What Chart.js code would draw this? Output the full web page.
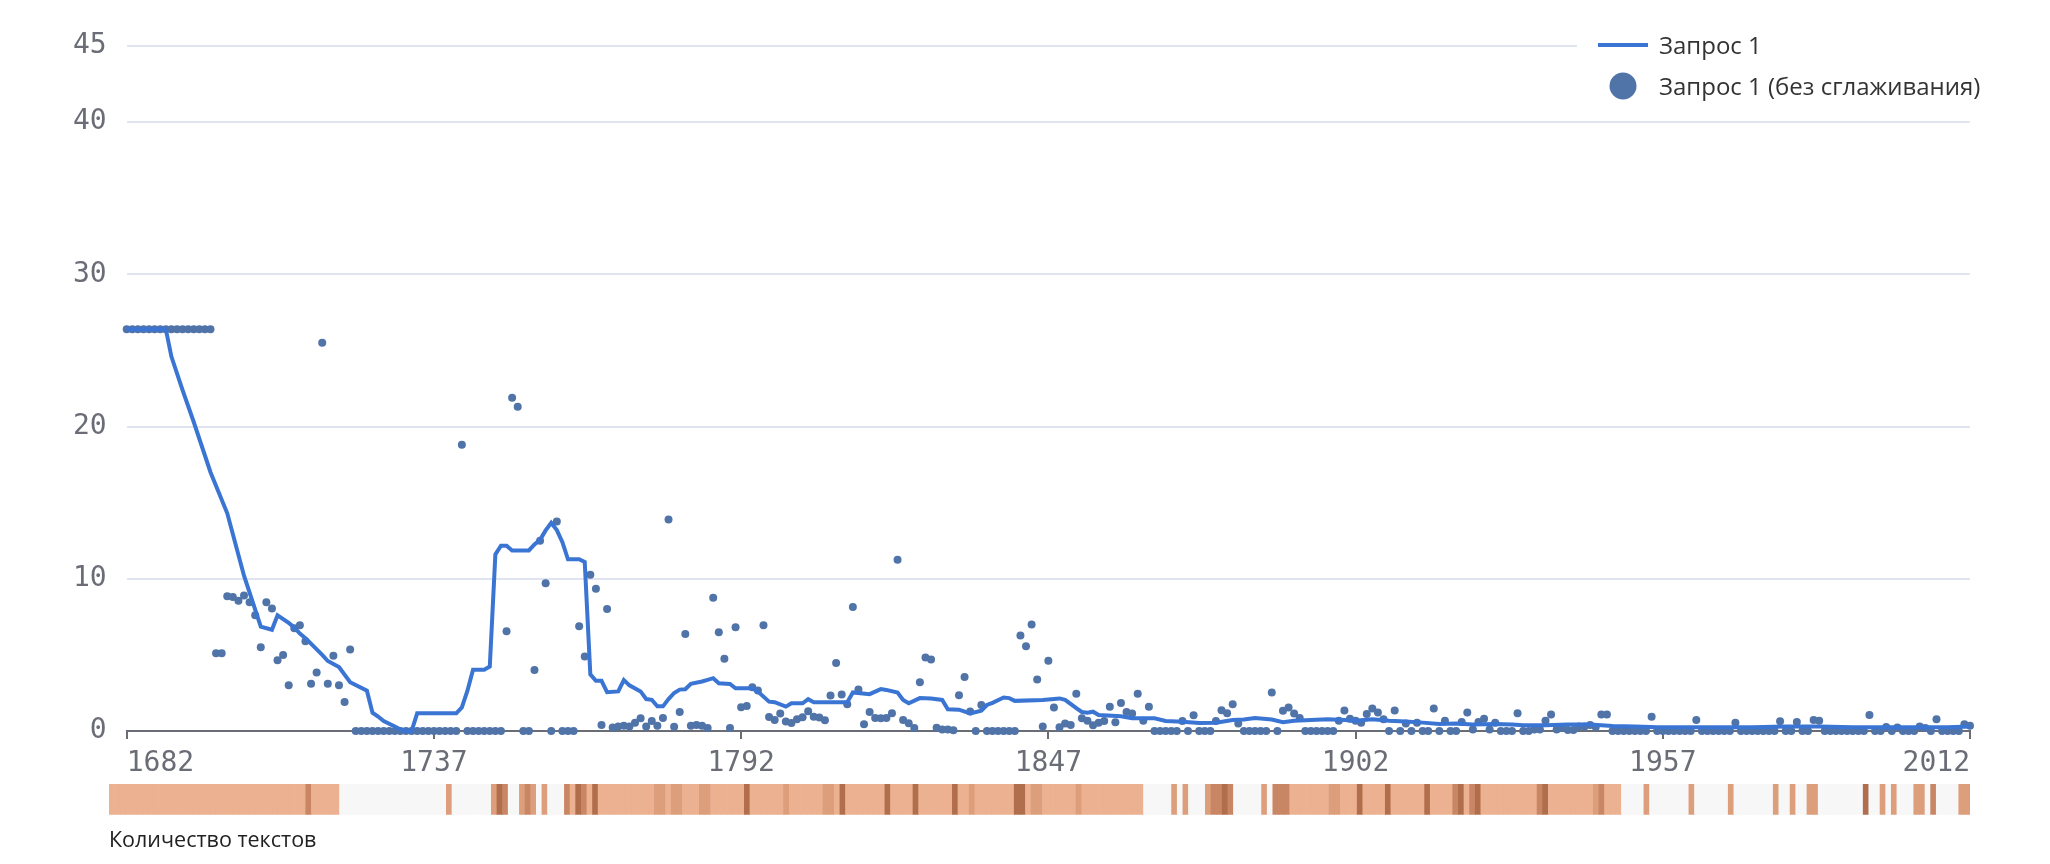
<!DOCTYPE html>
<html>
<head>
<meta charset="utf-8">
<script src="https://cdn.jsdelivr.net/npm/chart.js@4/dist/chart.umd.min.js"></script>
<style>
  html, body { margin: 0; padding: 0; background: #fff; }
  #wrap { position: relative; width: 2050px; height: 864px; }
  #main { position: absolute; left: 0; top: 0; }
  #strip { position: absolute; left: 0; top: 780px; }
</style>
</head>
<body>
<div id="wrap">
  <canvas id="main" width="2050" height="790"></canvas>
  <canvas id="strip" width="2050" height="84"></canvas>
</div>
<script>
// годы и подписи осей
const firstYear = 1682;
const xTickYears = [1682, 1737, 1792, 1847, 1902, 1957, 2012];
const yTickValues = [0, 10, 20, 30, 40, 45];

// точки без сглаживания, по одному значению на год (1682..2012)
const dotValues = [
  26.4, 26.4, 26.4, 26.4, 26.4, 26.4, 26.4, 26.4, 26.4, 26.4,
  26.4, 26.4, 26.4, 26.4, 26.4, 26.4, 5.1, 5.1, 8.85, 8.8,
  8.55, 8.9, 8.45, 7.6, 5.5, 8.45, 8.05, 4.65, 5.0, 3.0,
  6.75, 6.95, 5.9, 3.1, 3.85, 25.5, 3.1, 4.95, 3.0, 1.9,
  5.35, 0, 0, 0, 0, 0, 0, 0, 0, 0,
  0, 0, 0, 0, 0, 0, 0, 0, 0, 0,
  18.8, 0, 0, 0, 0, 0, 0, 0, 6.55, 21.9,
  21.3, 0, 0, 4.0, 12.5, 9.7, 0, 13.76, 0, 0,
  0, 6.88, 4.9, 10.26, 9.34, 0.4, 8.02, 0.23, 0.3, 0.35,
  0.3, 0.54, 0.83, 0.3, 0.65, 0.35, 0.85, 13.9, 0.28, 1.25,
  6.37, 0.35, 0.4, 0.35, 0.2, 8.75, 6.48, 4.75, 0.2, 6.81,
  1.56, 1.65, 2.88, 2.66, 6.94, 0.92, 0.73, 1.15, 0.62, 0.53,
  0.77, 0.9, 1.29, 0.94, 0.88, 0.7, 2.33, 4.46, 2.4, 1.76,
  8.15, 2.72, 0.45, 1.25, 0.85, 0.83, 0.85, 1.16, 11.25, 0.73,
  0.51, 0.19, 3.2, 4.83, 4.7, 0.22, 0.1, 0.1, 0.05, 2.35,
  3.54, 1.28, 0, 1.7, 0, 0, 0, 0, 0, 0,
  6.28, 5.56, 6.99, 3.38, 0.3, 4.61, 1.55, 0.24, 0.5, 0.4,
  2.44, 0.83, 0.68, 0.38, 0.55, 0.65, 1.6, 0.57, 1.84, 1.25,
  1.15, 2.44, 0.68, 1.6, 0, 0, 0, 0, 0, 0.65,
  0, 1.03, 0, 0, 0, 0.65, 1.37, 1.17, 1.75, 0.5,
  0, 0, 0, 0, 0, 2.53, 0, 1.33, 1.55, 1.15,
  0.85, 0, 0, 0, 0, 0, 0, 0.68, 1.34, 0.81,
  0.68, 0.55, 1.12, 1.47, 1.21, 0.77, 0, 1.34, 0, 0.5,
  0, 0.55, 0, 0, 1.47, 0, 0.68, 0, 0, 0.59,
  1.21, 0.1, 0.59, 0.81, 0.1, 0.55, 0, 0, 0, 1.16,
  0, 0, 0.1, 0.1, 0.68, 1.08, 0.1, 0.2, 0.07, 0.07,
  0.3, 0.3, 0.4, 0.27, 1.08, 1.08, 0, 0, 0, 0,
  0, 0, 0, 0.94, 0, 0, 0, 0, 0, 0,
  0, 0.73, 0, 0, 0, 0, 0, 0, 0.55, 0,
  0, 0, 0, 0, 0, 0, 0.64, 0, 0, 0.59,
  0, 0, 0.73, 0.68, 0, 0, 0, 0, 0, 0,
  0, 0, 1.05, 0, 0, 0.27, 0, 0.23, 0, 0,
  0, 0.3, 0.2, 0, 0.77, 0, 0, 0, 0, 0.45,
  0.35
];

// сглаженная линия
const lineYears = [
  1682, 1689, 1690, 1692, 1694, 1697, 1700, 1703, 1706, 1708,
  1709, 1711, 1712, 1713, 1714, 1717, 1718, 1720, 1722, 1725,
  1726, 1727, 1728, 1730, 1731, 1732, 1733, 1734, 1741, 1742,
  1743, 1744, 1746, 1747, 1748, 1749, 1750, 1751, 1754, 1755,
  1756, 1757, 1758, 1759, 1760, 1761, 1763, 1764, 1765, 1766,
  1767, 1768, 1770, 1771, 1772, 1774, 1775, 1776, 1777, 1778,
  1779, 1780, 1781, 1782, 1783, 1785, 1786, 1787, 1788, 1790,
  1791, 1794, 1795, 1797, 1798, 1800, 1801, 1803, 1804, 1805,
  1811, 1812, 1815, 1817, 1818, 1820, 1821, 1822, 1824, 1826,
  1828, 1829, 1831, 1833, 1835, 1836, 1837, 1839, 1840, 1841,
  1846, 1849, 1850, 1852, 1853, 1854, 1855, 1856, 1860, 1862,
  1866, 1868, 1871, 1874, 1877, 1880, 1882, 1884, 1887, 1889,
  1891, 1894, 1897, 1900, 1902, 1905, 1908, 1911, 1914, 1917,
  1920, 1923, 1927, 1930, 1932, 1936, 1940, 1944, 1948, 1952,
  1956, 1962, 1967, 1973, 1979, 1985, 1991, 1997, 2002, 2008,
  2012
];
const lineValues = [
  26.4, 26.4, 24.6, 22.4, 20.3, 17.0, 14.3, 10.2, 6.85, 6.65,
  7.6, 7.1, 6.8, 6.4, 6.1, 5.0, 4.6, 4.2, 3.2, 2.65,
  1.2, 0.95, 0.65, 0.3, 0.1, 0, 0, 1.16, 1.16, 1.55,
  2.65, 4.03, 4.03, 4.23, 11.6, 12.17, 12.17, 11.86, 11.86, 12.26,
  12.56, 13.18, 13.68, 13.2, 12.4, 11.28, 11.28, 11.1, 3.72, 3.3,
  3.3, 2.55, 2.6, 3.35, 3.0, 2.6, 2.1, 2.05, 1.62, 1.62,
  2.1, 2.5, 2.72, 2.74, 3.1, 3.25, 3.36, 3.47, 3.14, 3.09,
  2.81, 2.81, 2.59, 1.93, 1.89, 1.6, 1.82, 1.82, 2.09, 1.89,
  1.89, 2.53, 2.42, 2.75, 2.7, 2.53, 2.04, 1.82, 2.16, 2.13,
  2.04, 1.43, 1.4, 1.16, 1.34, 1.71, 1.85, 2.2, 2.16, 1.98,
  2.04, 2.14, 2.05, 1.5, 1.25, 1.2, 1.27, 1.05, 0.97, 0.83,
  0.83, 0.66, 0.61, 0.53, 0.55, 0.72, 0.75, 0.86, 0.75, 0.58,
  0.68, 0.73, 0.77, 0.73, 0.68, 0.77, 0.68, 0.62, 0.55, 0.46,
  0.5, 0.43, 0.46, 0.42, 0.37, 0.37, 0.42, 0.42, 0.33, 0.29,
  0.24, 0.24, 0.24, 0.24, 0.29, 0.29, 0.24, 0.24, 0.24, 0.24,
  0.29
];

// количество текстов по годам (1682..2012), примерно по цвету полосы
const textCounts = [
  1, 1, 1, 1, 1, 1, 1, 1, 1, 1,
  1, 1, 1, 1, 1, 1, 1, 1, 1, 1,
  1, 1, 1, 1, 1, 1, 1, 1, 1, 1,
  1, 1, 1, 1, 1, 3, 1, 1, 1, 1,
  1, 0, 0, 0, 0, 0, 0, 0, 0, 0,
  0, 0, 0, 0, 0, 0, 0, 0, 0, 0,
  2, 0, 0, 0, 0, 0, 0, 0, 2, 4,
  3, 0, 0, 2, 3, 2, 0, 2, 0, 0,
  0, 3, 1, 4, 3, 1, 4, 1, 1, 1,
  1, 1, 1, 1, 1, 1, 1, 2, 2, 1,
  2, 2, 1, 1, 1, 2, 2, 1, 1, 1,
  1, 1, 1, 4, 1, 1, 1, 1, 1, 1,
  2, 1, 1, 1, 1, 1, 1, 2, 2, 1,
  4, 1, 1, 1, 1, 1, 1, 1, 4, 1,
  1, 1, 1, 4, 1, 1, 1, 1, 1, 1,
  4, 1, 1, 2, 1, 1, 1, 1, 1, 1,
  1, 4, 4, 1, 2, 2, 1, 1, 1, 1,
  1, 1, 2, 1, 1, 1, 1, 1, 1, 1,
  1, 1, 1, 1, 0, 0, 0, 0, 0, 2,
  0, 2, 0, 0, 0, 2, 3, 3, 4, 3,
  0, 0, 0, 0, 0, 2, 0, 3, 3, 3,
  1, 1, 1, 1, 1, 1, 1, 2, 2, 1,
  1, 1, 4, 1, 1, 1, 1, 4, 1, 1,
  1, 1, 1, 1, 4, 1, 1, 1, 1, 3,
  4, 1, 3, 4, 1, 1, 1, 1, 1, 1,
  1, 1, 1, 1, 3, 4, 1, 1, 1, 1,
  1, 1, 1, 1, 2, 3, 1, 1, 1, 0,
  0, 0, 0, 2, 0, 0, 0, 0, 0, 0,
  0, 2, 0, 0, 0, 0, 0, 0, 2, 0,
  0, 0, 0, 0, 0, 0, 2, 0, 0, 2,
  0, 0, 2, 2, 0, 0, 0, 0, 0, 0,
  0, 0, 4, 0, 0, 2, 0, 2, 0, 0,
  0, 2, 2, 0, 3, 0, 0, 0, 0, 2,
  2
];

const years = dotValues.map((v, i) => firstYear + i);
const countColors = ['#f7f7f7', '#ecb191', '#dc9e7b', '#c98664', '#b06e4c'];

const tickFont = { family: 'DejaVu Sans Mono', size: 28 };
const tickColor = '#6a6d76';

// легенда поверх области графика, на белом фоне
const legendBox = {
  id: 'legendBox',
  beforeDatasetsDraw(chart) {
    const c = chart.ctx;
    const ds = chart.data.datasets;
    const x0 = chart.chartArea.right - 393;
    c.save();
    c.fillStyle = '#fff';
    c.fillRect(x0, 18, 420, 90);
    c.strokeStyle = ds[0].borderColor;
    c.lineWidth = 4;
    c.beginPath();
    c.moveTo(x0 + 21, 45);
    c.lineTo(x0 + 71, 45);
    c.stroke();
    c.fillStyle = ds[1].backgroundColor;
    c.beginPath();
    c.arc(x0 + 46, 86, 13.5, 0, Math.PI * 2);
    c.fill();
    c.fillStyle = '#333';
    c.font = '24px "Open Sans"';
    c.textBaseline = 'middle';
    c.fillText(ds[0].label, x0 + 82, 47);
    c.fillText(ds[1].label, x0 + 82, 88);
    c.restore();
  }
};

new Chart(document.getElementById('main'), {
  data: {
    datasets: [
      {
        type: 'line',
        label: 'Запрос 1',
        data: lineYears.map((x, i) => ({ x: x, y: lineValues[i] })),
        borderColor: '#3a75d3',
        borderWidth: 4,
        pointRadius: 0,
        tension: 0,
        clip: false
      },
      {
        type: 'scatter',
        label: 'Запрос 1 (без сглаживания)',
        data: dotValues.map((y, i) => ({ x: years[i], y: y })),
        backgroundColor: '#5073a8',
        borderWidth: 0,
        pointRadius: 4,
        clip: false
      }
    ]
  },
  options: {
    responsive: false,
    animation: false,
    layout: { padding: { left: 53, right: 80, top: 46, bottom: 1.4 } },
    plugins: { legend: { display: false }, tooltip: { enabled: false } },
    scales: {
      x: {
        type: 'linear',
        min: 1682,
        max: 2012,
        afterBuildTicks: s => { s.ticks = xTickYears.map(v => ({ value: v })); },
        ticks: {
          callback: v => String(v),
          align: 'inner',
          autoSkip: false,
          maxRotation: 0,
          font: tickFont,
          color: tickColor,
          padding: 8
        },
        grid: { drawOnChartArea: false, tickLength: 8, color: tickColor, lineWidth: 2 },
        border: { color: tickColor, width: 2 }
      },
      y: {
        min: 0,
        max: 45,
        afterBuildTicks: s => { s.ticks = yTickValues.map(v => ({ value: v })); },
        ticks: { font: tickFont, color: tickColor, padding: 20 },
        grid: { color: '#e0e3f0', lineWidth: 2, drawTicks: false },
        border: { display: false }
      }
    }
  },
  plugins: [legendBox]
});

// полоса "Количество текстов"
new Chart(document.getElementById('strip'), {
  type: 'bar',
  data: {
    labels: years,
    datasets: [{
      data: textCounts.map(() => 1),
      backgroundColor: textCounts.map(n => countColors[Math.min(n, 4)]),
      borderWidth: 0,
      barPercentage: 1,
      categoryPercentage: 1
    }]
  },
  options: {
    responsive: false,
    animation: false,
    layout: { padding: { left: 109, right: 80, top: 4, bottom: 6.5 } },
    plugins: { legend: { display: false }, tooltip: { enabled: false } },
    scales: {
      x: {
        ticks: { display: false },
        grid: { display: false },
        border: { display: false },
        title: {
          display: true,
          text: 'Количество текстов',
          align: 'start',
          color: '#222',
          font: { family: 'Open Sans', size: 21.5 },
          padding: { top: 5, bottom: 4 }
        }
      },
      y: { display: false, min: 0, max: 1 }
    }
  }
});
</script>
</body>
</html>
